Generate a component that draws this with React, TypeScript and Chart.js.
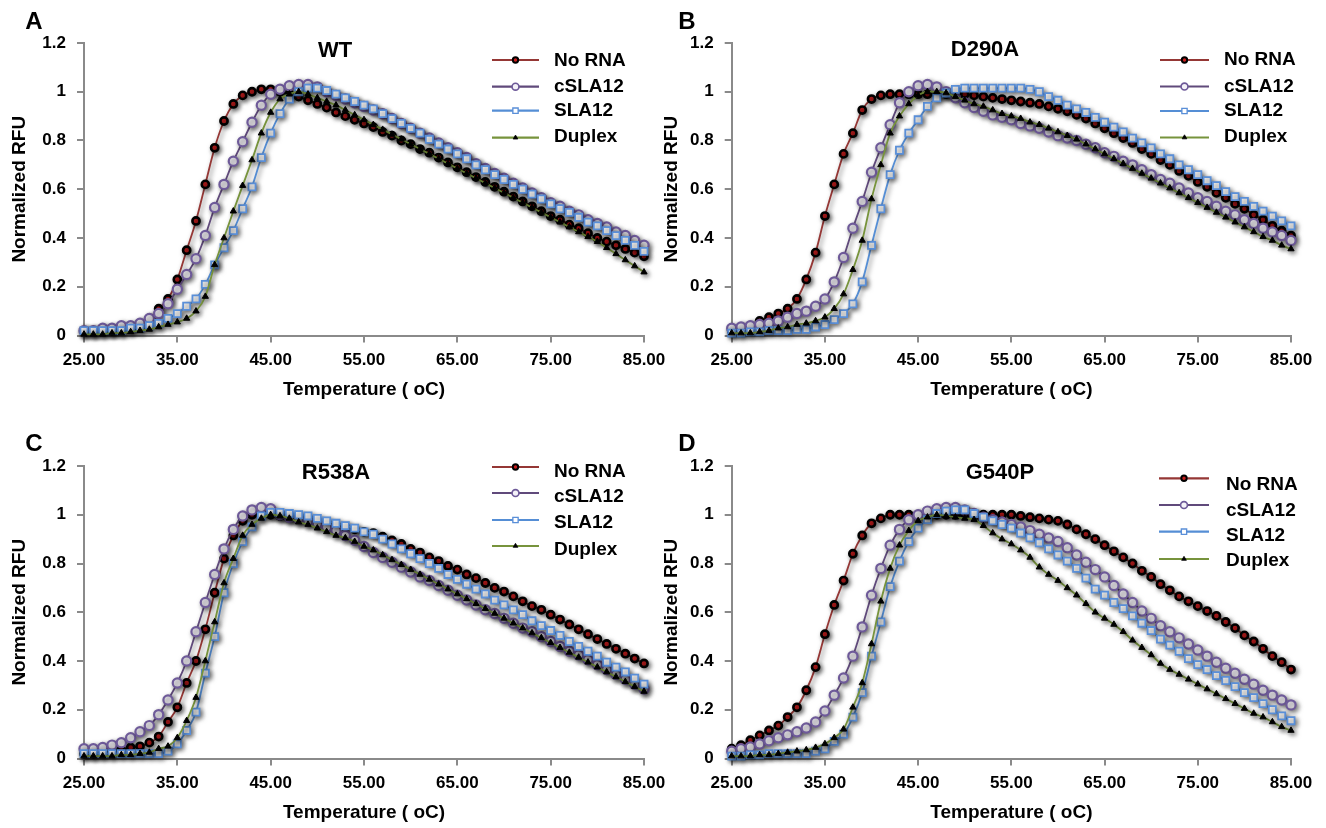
import React, { useEffect, useRef } from "react";
import { Chart, registerables } from "chart.js";

Chart.register(...registerables);

// ---------------- data ----------------
const temperatures = [
  25, 26, 27, 28, 29, 30, 31, 32, 33, 34,
  35, 36, 37, 38, 39, 40, 41, 42, 43, 44,
  45, 46, 47, 48, 49, 50, 51, 52, 53, 54,
  55, 56, 57, 58, 59, 60, 61, 62, 63, 64,
  65, 66, 67, 68, 69, 70, 71, 72, 73, 74,
  75, 76, 77, 78, 79, 80, 81, 82, 83, 84,
  85,
];
const seriesNames = ["No RNA", "cSLA12", "SLA12", "Duplex"];
const xTickValues = [25, 35, 45, 55, 65, 75, 85];
const yTickValues = [0, 0.2, 0.4, 0.6, 0.8, 1, 1.2];

// Panel A — WT
const wtNoRna = [
  0.02, 0.02, 0.02, 0.02, 0.03, 0.03, 0.05, 0.07, 0.11, 0.15,
  0.23, 0.35, 0.47, 0.62, 0.77, 0.88, 0.95, 0.985, 1.0, 1.01,
  1.01, 1.0, 0.99, 0.98, 0.965, 0.95, 0.935, 0.915, 0.9, 0.885,
  0.87, 0.855, 0.835, 0.82, 0.8, 0.785, 0.765, 0.75, 0.73, 0.71,
  0.69, 0.67, 0.65, 0.63, 0.61, 0.59, 0.57, 0.55, 0.53, 0.51,
  0.49, 0.475, 0.455, 0.44, 0.42, 0.4, 0.385, 0.37, 0.355, 0.34,
  0.325,
];
const wtCsla = [
  0.02, 0.02, 0.03, 0.03, 0.04, 0.04, 0.05, 0.07, 0.09, 0.13,
  0.19, 0.25, 0.315, 0.41, 0.525, 0.62, 0.715, 0.795, 0.875, 0.945,
  0.99, 1.01, 1.025, 1.03, 1.03, 1.02, 1.0, 0.985, 0.97, 0.955,
  0.94, 0.925, 0.91, 0.89, 0.87, 0.85, 0.83, 0.81, 0.79, 0.77,
  0.75, 0.73, 0.705, 0.685, 0.665, 0.645, 0.625, 0.605, 0.585, 0.565,
  0.545, 0.53, 0.51, 0.495, 0.475, 0.46, 0.445, 0.425, 0.41, 0.39,
  0.37,
];
const wtSla = [
  0.02, 0.02, 0.02, 0.02, 0.02, 0.03, 0.03, 0.04, 0.05, 0.07,
  0.09, 0.12, 0.15, 0.21, 0.29, 0.36, 0.43, 0.52, 0.61, 0.73,
  0.83, 0.91, 0.97, 1.0, 1.015, 1.015, 1.005, 0.99, 0.975, 0.96,
  0.945, 0.93, 0.91, 0.89, 0.87, 0.85, 0.83, 0.805, 0.785, 0.765,
  0.745, 0.725, 0.7, 0.68, 0.66, 0.64, 0.62, 0.6, 0.58, 0.56,
  0.54, 0.52, 0.505, 0.485, 0.465, 0.45, 0.43, 0.41, 0.39, 0.37,
  0.345,
];
const wtDuplex = [
  0.005, 0.005, 0.005, 0.01, 0.01, 0.015, 0.02, 0.025, 0.035, 0.045,
  0.055, 0.07, 0.1, 0.16, 0.29, 0.4, 0.51, 0.615, 0.72, 0.83,
  0.915, 0.97, 0.99, 1.0, 0.99, 0.975, 0.96, 0.945, 0.925, 0.905,
  0.885, 0.865, 0.845, 0.825, 0.805, 0.785, 0.765, 0.745, 0.725, 0.705,
  0.685, 0.665, 0.645, 0.625, 0.605, 0.585, 0.565, 0.545, 0.525, 0.505,
  0.485, 0.465, 0.445, 0.425, 0.405, 0.385, 0.36, 0.335, 0.31, 0.285,
  0.26,
];

// Panel B — D290A
const d290NoRna = [
  0.02, 0.03, 0.04, 0.06, 0.075, 0.09, 0.11, 0.15, 0.23, 0.34,
  0.49, 0.62, 0.745, 0.83, 0.925, 0.97, 0.985, 0.99, 0.99, 0.99,
  0.99, 0.99, 0.99, 0.99, 0.99, 0.99, 0.985, 0.98, 0.975, 0.97,
  0.965, 0.96, 0.955, 0.95, 0.94, 0.93, 0.92, 0.905, 0.89, 0.87,
  0.85, 0.83, 0.81, 0.79, 0.765, 0.745, 0.72, 0.7, 0.675, 0.655,
  0.63, 0.61, 0.585, 0.565, 0.54, 0.52, 0.495, 0.475, 0.45, 0.43,
  0.41,
];
const d290Csla = [
  0.03, 0.035, 0.04, 0.045, 0.05, 0.06, 0.075, 0.09, 0.1, 0.12,
  0.15, 0.22, 0.32, 0.44, 0.55, 0.67, 0.77, 0.865, 0.955, 1.0,
  1.025, 1.03, 1.02, 1.0, 0.975, 0.955, 0.935, 0.92, 0.905, 0.895,
  0.885, 0.87, 0.86, 0.85, 0.835, 0.82, 0.81, 0.8, 0.785, 0.77,
  0.75, 0.735, 0.715, 0.7, 0.68, 0.66, 0.64, 0.625, 0.605, 0.585,
  0.565, 0.55, 0.53, 0.51, 0.495, 0.475, 0.46, 0.44, 0.425, 0.41,
  0.39,
];
const d290Sla = [
  0.01, 0.01, 0.015, 0.015, 0.02, 0.02, 0.02, 0.025, 0.025, 0.035,
  0.045, 0.065, 0.09, 0.13, 0.22, 0.37, 0.52, 0.66, 0.76, 0.83,
  0.885, 0.94, 0.975, 0.995, 1.01, 1.015, 1.015, 1.015, 1.015, 1.015,
  1.015, 1.015, 1.01, 1.0, 0.98, 0.965, 0.945, 0.93, 0.915, 0.895,
  0.875, 0.855, 0.835, 0.81, 0.79, 0.77, 0.745, 0.725, 0.7, 0.68,
  0.66, 0.635, 0.615, 0.59, 0.57, 0.55, 0.53, 0.51, 0.49, 0.47,
  0.45,
];
const d290Duplex = [
  0.01, 0.01, 0.01, 0.015, 0.02, 0.03, 0.035, 0.045, 0.05, 0.06,
  0.075, 0.11, 0.17, 0.27, 0.39, 0.56, 0.7, 0.83, 0.9, 0.95,
  0.985, 1.0, 1.0, 0.995, 0.98, 0.965, 0.95, 0.94, 0.925, 0.91,
  0.9, 0.89, 0.875, 0.865, 0.85, 0.835, 0.82, 0.805, 0.785, 0.765,
  0.745, 0.725, 0.705, 0.685, 0.665, 0.645, 0.625, 0.605, 0.585, 0.565,
  0.545, 0.525, 0.505, 0.485, 0.465, 0.445, 0.425, 0.405, 0.39, 0.37,
  0.355,
];

// Panel C — R538A
const r538NoRna = [
  0.02, 0.02, 0.025, 0.03, 0.035, 0.045, 0.05, 0.065, 0.09, 0.15,
  0.21, 0.31, 0.4, 0.53, 0.68, 0.82, 0.915, 0.975, 1.0, 1.02,
  1.0, 0.995, 0.99, 0.985, 0.98, 0.97, 0.965, 0.955, 0.95, 0.94,
  0.93, 0.925, 0.91, 0.895, 0.88, 0.86, 0.845, 0.825, 0.81, 0.79,
  0.775, 0.755, 0.74, 0.72, 0.7, 0.685, 0.665, 0.645, 0.625, 0.61,
  0.59, 0.57, 0.55, 0.53, 0.51, 0.49, 0.47, 0.45, 0.43, 0.41,
  0.39,
];
const r538Csla = [
  0.04, 0.04, 0.045, 0.055, 0.065, 0.085, 0.11, 0.135, 0.18, 0.24,
  0.31, 0.4, 0.52, 0.64, 0.755, 0.86, 0.94, 0.995, 1.02, 1.03,
  1.025, 1.0, 0.99, 0.985, 0.975, 0.965, 0.95, 0.935, 0.915, 0.895,
  0.87, 0.845, 0.825, 0.805, 0.785, 0.765, 0.745, 0.73, 0.71, 0.69,
  0.67, 0.65, 0.63, 0.61, 0.595, 0.575, 0.555, 0.535, 0.52, 0.5,
  0.48, 0.46, 0.44, 0.425, 0.405, 0.385, 0.365, 0.345, 0.325, 0.305,
  0.285,
];
const r538Sla = [
  0.02, 0.02, 0.02, 0.02, 0.02, 0.02, 0.02, 0.02, 0.02, 0.03,
  0.06, 0.115, 0.19, 0.35, 0.5, 0.68, 0.8, 0.89, 0.95, 0.995,
  1.01, 1.01, 1.005, 1.0, 0.995, 0.985, 0.975, 0.965, 0.955, 0.945,
  0.93, 0.92, 0.9, 0.88, 0.86, 0.84, 0.82, 0.8, 0.78, 0.755,
  0.735, 0.715, 0.695, 0.675, 0.65, 0.63, 0.61, 0.59, 0.565, 0.545,
  0.525, 0.505, 0.48, 0.46, 0.44, 0.42, 0.395, 0.375, 0.355, 0.33,
  0.305,
];
const r538Duplex = [
  0.01, 0.01, 0.01, 0.01, 0.015, 0.015, 0.02, 0.025, 0.04, 0.05,
  0.085, 0.155, 0.25, 0.4, 0.56, 0.72, 0.82, 0.915, 0.96, 0.985,
  1.0, 0.995, 0.985, 0.97, 0.96, 0.945, 0.93, 0.915, 0.905, 0.89,
  0.87, 0.855, 0.835, 0.815, 0.795, 0.775, 0.755, 0.735, 0.715, 0.695,
  0.675, 0.655, 0.635, 0.615, 0.595, 0.575, 0.555, 0.535, 0.515, 0.495,
  0.475, 0.455, 0.435, 0.415, 0.395, 0.375, 0.355, 0.335, 0.315, 0.295,
  0.275,
];

// Panel D — G540P
const g540NoRna = [
  0.04, 0.055, 0.075, 0.095, 0.115, 0.135, 0.17, 0.21, 0.28, 0.375,
  0.51, 0.63, 0.73, 0.84, 0.915, 0.965, 0.985, 1.0, 1.0, 1.0,
  1.0, 1.0, 1.0, 1.0, 1.0, 1.0, 1.0, 1.0, 1.0, 1.0,
  1.0, 0.995, 0.99, 0.985, 0.98, 0.975, 0.96, 0.94, 0.92, 0.9,
  0.875, 0.85, 0.825, 0.8, 0.77, 0.745, 0.715, 0.69, 0.665, 0.645,
  0.625, 0.605, 0.585, 0.56, 0.535, 0.505, 0.48, 0.45, 0.42, 0.395,
  0.365,
];
const g540Csla = [
  0.03, 0.04, 0.047, 0.06, 0.073, 0.085, 0.097, 0.11, 0.125, 0.15,
  0.195, 0.26, 0.33, 0.42, 0.54, 0.67, 0.78, 0.875, 0.94, 0.98,
  1.0, 1.015, 1.025, 1.03, 1.03, 1.02, 1.005, 0.99, 0.98, 0.97,
  0.96, 0.95, 0.935, 0.92, 0.905, 0.89, 0.865, 0.835, 0.805, 0.775,
  0.745, 0.71, 0.675, 0.64, 0.605, 0.575, 0.545, 0.52, 0.495, 0.47,
  0.445, 0.42, 0.395, 0.37, 0.35, 0.325, 0.305, 0.28, 0.26, 0.24,
  0.22,
];
const g540Sla = [
  0.01, 0.01, 0.015, 0.015, 0.02, 0.02, 0.02, 0.02, 0.02, 0.03,
  0.04, 0.07, 0.1, 0.17, 0.27, 0.42, 0.56, 0.705, 0.81, 0.89,
  0.945, 0.98, 1.005, 1.015, 1.02, 1.02, 1.005, 0.99, 0.975, 0.96,
  0.945, 0.925, 0.905, 0.885, 0.86, 0.835, 0.81, 0.78, 0.74, 0.695,
  0.67, 0.64, 0.615, 0.585, 0.555, 0.525, 0.49, 0.465, 0.44, 0.41,
  0.385, 0.365, 0.34, 0.32, 0.295, 0.27, 0.25, 0.225, 0.2, 0.175,
  0.155,
];
const g540Duplex = [
  0.01, 0.01, 0.01, 0.015, 0.015, 0.02, 0.025, 0.03, 0.035, 0.045,
  0.06, 0.085, 0.12, 0.21, 0.31, 0.47, 0.645, 0.78, 0.875, 0.935,
  0.975, 0.99, 1.0, 0.995, 0.99, 0.985, 0.98, 0.955, 0.925, 0.9,
  0.88, 0.855, 0.825, 0.785, 0.755, 0.73, 0.7, 0.67, 0.635, 0.6,
  0.575, 0.55, 0.52, 0.485, 0.455, 0.425, 0.39, 0.365, 0.345, 0.325,
  0.305, 0.285, 0.265, 0.245, 0.225, 0.205, 0.185, 0.17, 0.15, 0.13,
  0.115,
];

// ---------------- styles / layout ----------------
const FONT = "'Liberation Sans', Arial, Helvetica, sans-serif";
const W = 1326;
const H = 828;
const Y_W = 80;
const X_H = 70;

const seriesStyles = [
  { line: "#953735", shape: "circle", radius: 3.6, fill: "#c81e1e", border: "#000000", bw: 2.6 },
  { line: "#604a7b", shape: "circle", radius: 4.6, fill: "#f4f2f8", border: "#6e5a99", bw: 2.2 },
  { line: "#558ed5", shape: "rect", radius: 5, fill: "#ffffff", border: "#5a8fd8", bw: 1.8 },
  { line: "#77933c", shape: "triangle", radius: 3.6, fill: "#000000", border: "#000000", bw: 1 },
];

const panels = [
  {
    letter: "A", title: "WT",
    values: [wtNoRna, wtCsla, wtSla, wtDuplex],
    area: { left: 84, right: 644, top: 43, bottom: 335.5 },
    letterPos: [34, 22], titlePos: [335, 51],
    yTitleX: 20, xTitleY: 390,
    legend: { x1: 492, x2: 539, textX: 554, lineRows: [60, 86.7, 110.7, 137.7], textRows: [60.7, 86.7, 110.7, 136.7] },
  },
  {
    letter: "B", title: "D290A",
    values: [d290NoRna, d290Csla, d290Sla, d290Duplex],
    area: { left: 731.7, right: 1291, top: 43, bottom: 335.5 },
    letterPos: [687, 22], titlePos: [985, 50],
    yTitleX: 672, xTitleY: 390,
    legend: { x1: 1160, x2: 1209, textX: 1224, lineRows: [60, 86.5, 111, 137.5], textRows: [60, 86.5, 111, 137] },
  },
  {
    letter: "C", title: "R538A",
    values: [r538NoRna, r538Csla, r538Sla, r538Duplex],
    area: { left: 84, right: 644, top: 466, bottom: 758.5 },
    letterPos: [34, 444], titlePos: [336, 473],
    yTitleX: 20, xTitleY: 813,
    legend: { x1: 492, x2: 539, textX: 554, lineRows: [467, 493, 520, 546], textRows: [472, 497, 523, 550] },
  },
  {
    letter: "D", title: "G540P",
    values: [g540NoRna, g540Csla, g540Sla, g540Duplex],
    area: { left: 731.7, right: 1291, top: 466, bottom: 758.5 },
    letterPos: [687, 444], titlePos: [1000, 473],
    yTitleX: 672, xTitleY: 813,
    legend: { x1: 1159, x2: 1209, textX: 1226, lineRows: [478.3, 505, 531.7, 559], textRows: [485, 510.5, 536, 561] },
  },
];

function drawMarker(ctx: CanvasRenderingContext2D, idx: number, x: number, y: number, scale: number) {
  const st = seriesStyles[idx];
  const r = st.radius * scale;
  ctx.save();
  ctx.lineWidth = st.bw * scale;
  ctx.strokeStyle = st.border;
  ctx.fillStyle = st.fill;
  ctx.beginPath();
  if (st.shape === "circle") {
    ctx.arc(x, y, r, 0, Math.PI * 2);
  } else if (st.shape === "rect") {
    const s = r * Math.SQRT1_2;
    ctx.rect(x - s, y - s, 2 * s, 2 * s);
  } else {
    ctx.moveTo(x, y - r);
    ctx.lineTo(x + r * 0.87, y + r * 0.5);
    ctx.lineTo(x - r * 0.87, y + r * 0.5);
    ctx.closePath();
  }
  ctx.fill();
  ctx.stroke();
  ctx.restore();
}

const shadowPlugin = {
  id: "markerShadow",
  beforeDatasetsDraw(chart: any) {
    const c = chart.ctx;
    c.save();
    c.shadowColor = "rgba(0,0,0,0.55)";
    c.shadowBlur = 5;
    c.shadowOffsetX = 2;
    c.shadowOffsetY = 2;
  },
  afterDatasetsDraw(chart: any) {
    chart.ctx.restore();
  },
};

function makeDecor(p: any) {
  return {
    id: "decor" + p.letter,
    afterDraw(chart: any) {
      const ctx: CanvasRenderingContext2D = chart.ctx;
      ctx.save();
      ctx.fillStyle = "#000";
      ctx.textBaseline = "middle";
      ctx.textAlign = "center";
      ctx.font = `bold 24px ${FONT}`;
      ctx.fillText(p.letter, p.letterPos[0], p.letterPos[1]);
      ctx.font = `bold 22px ${FONT}`;
      ctx.fillText(p.title, p.titlePos[0], p.titlePos[1]);
      const lg = p.legend;
      chart.data.datasets.forEach((ds: any, i: number) => {
        const y = lg.lineRows[i];
        ctx.strokeStyle = ds.borderColor;
        ctx.lineWidth = 2.2;
        ctx.beginPath();
        ctx.moveTo(lg.x1, y);
        ctx.lineTo(lg.x2, y);
        ctx.stroke();
        drawMarker(ctx, i, (lg.x1 + lg.x2) / 2, y, 0.75);
        ctx.fillStyle = "#000";
        ctx.textAlign = "left";
        ctx.font = `bold 19px ${FONT}`;
        ctx.fillText(ds.label, lg.textX, lg.textRows[i]);
      });
      ctx.restore();
    },
  };
}

function PanelChart({ panel }: { panel: any }) {
  const ref = useRef<HTMLCanvasElement | null>(null);
  useEffect(() => {
    if (!ref.current) return;
    const a = panel.area;
    const tickFont = { family: FONT, size: 17, weight: "bold" as const };
    const titleFont = { family: FONT, size: 19, weight: "bold" as const, lineHeight: 1.2 };
    const lh = 19 * 1.2;
    const yPadTop = panel.yTitleX - (a.left - Y_W) - lh / 2;
    const xPadBottom = a.bottom + X_H - lh / 2 - panel.xTitleY;
    const chart = new Chart(ref.current, {
      type: "line",
      data: {
        datasets: panel.values.map((vals: number[], i: number) => {
          const st = seriesStyles[i];
          return {
            label: seriesNames[i],
            data: temperatures.map((t, k) => ({ x: t, y: vals[k] })),
            borderColor: st.line,
            backgroundColor: st.line,
            borderWidth: 1.8,
            pointStyle: st.shape,
            pointRadius: st.radius,
            pointBackgroundColor: st.fill,
            pointBorderColor: st.border,
            pointBorderWidth: st.bw,
            cubicInterpolationMode: "monotone",
            fill: false,
            clip: false,
            order: 4 - i,
          };
        }),
      },
      options: {
        responsive: false,
        animation: false,
        events: [],
        layout: {
          padding: {
            left: a.left - Y_W,
            top: a.top,
            right: W - a.right,
            bottom: H - a.bottom - X_H,
          },
        },
        plugins: {
          legend: { display: false },
          tooltip: { enabled: false },
          title: { display: false },
        },
        scales: {
          x: {
            type: "linear",
            min: 25,
            max: 85,
            afterBuildTicks: (s: any) => {
              s.ticks = xTickValues.map((v) => ({ value: v }));
            },
            afterFit: (s: any) => {
              s.height = X_H;
              s.paddingLeft = 0;
              s.paddingRight = 0;
            },
            ticks: {
              autoSkip: false,
              maxRotation: 0,
              padding: 8,
              color: "#000",
              font: tickFont,
              callback: (v: any) => Number(v).toFixed(2),
            },
            grid: { display: true, drawOnChartArea: false, drawTicks: true, tickLength: 7, color: "#8a8a8a", lineWidth: 2 },
            border: { display: true, color: "#8a8a8a", width: 2 },
            title: {
              display: true,
              text: "Temperature ( oC)",
              color: "#000",
              font: titleFont,
              padding: { top: 0, bottom: xPadBottom },
            },
          },
          y: {
            type: "linear",
            min: 0,
            max: 1.2,
            afterBuildTicks: (s: any) => {
              s.ticks = yTickValues.map((v) => ({ value: v }));
            },
            afterFit: (s: any) => {
              s.width = Y_W;
            },
            ticks: {
              autoSkip: false,
              padding: 11,
              color: "#000",
              font: tickFont,
              callback: (v: any) => String(Math.round(Number(v) * 10) / 10),
            },
            grid: { display: true, drawOnChartArea: false, drawTicks: true, tickLength: 7, color: "#8a8a8a", lineWidth: 2 },
            border: { display: true, color: "#8a8a8a", width: 2 },
            title: {
              display: true,
              text: "Normalized RFU",
              color: "#000",
              font: titleFont,
              padding: { top: yPadTop, bottom: 0 },
            },
          },
        },
      },
      plugins: [shadowPlugin, makeDecor(panel)],
    } as any);
    return () => chart.destroy();
  }, [panel]);
  return (
    <canvas
      ref={ref}
      width={W}
      height={H}
      style={{ position: "absolute", left: 0, top: 0, width: W, height: H }}
    />
  );
}

export default function App() {
  return (
    <div style={{ position: "absolute", left: 0, top: 0, width: W, height: H, background: "#ffffff", overflow: "hidden" }}>
      {panels.map((p) => (
        <PanelChart key={p.letter} panel={p} />
      ))}
    </div>
  );
}
